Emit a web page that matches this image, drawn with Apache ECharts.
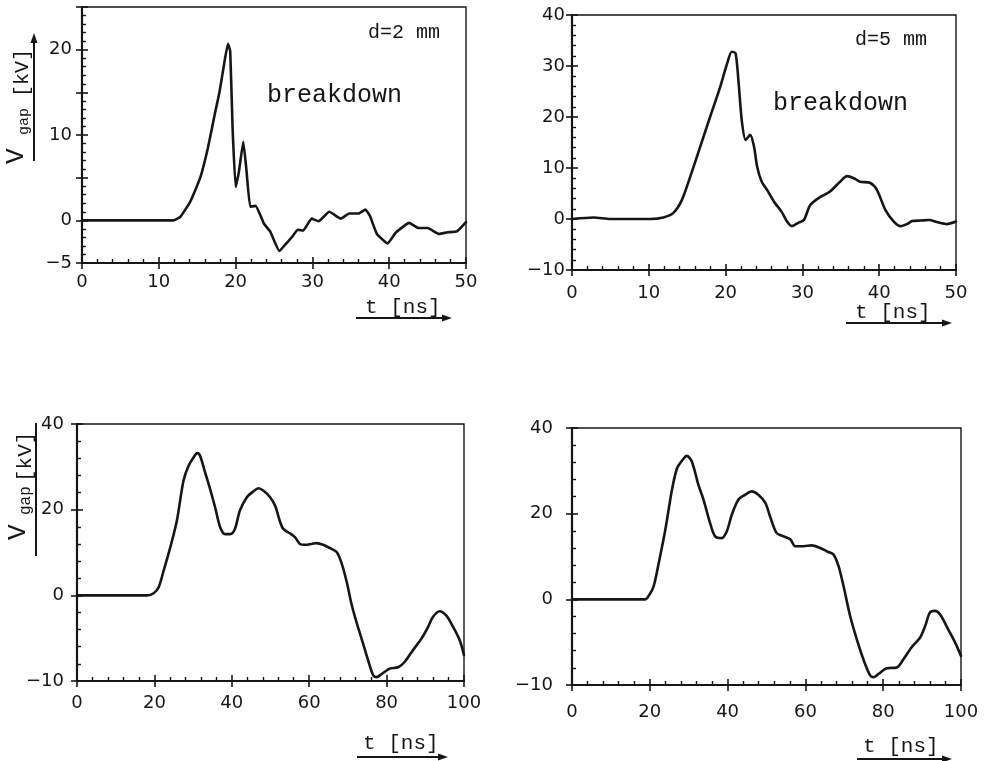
<!DOCTYPE html>
<html>
<head>
<meta charset="utf-8">
<script src="https://cdn.jsdelivr.net/npm/echarts@6/dist/echarts.min.js"></script>
<style>
  html, body { margin: 0; padding: 0; background: #ffffff; }
  #chart { width: 987px; height: 761px; }
</style>
</head>
<body>
<div id="chart"></div>
<script>
// Gap voltage waveforms, V_gap [kV] against t [ns]

// d = 2 mm, breakdown
const time2mm = [0, 11.9, 12.8, 14.1, 15.4, 16.4, 17.3, 17.9, 18.5, 19.0, 19.3, 19.6, 20.0, 20.4, 21.0, 21.4, 21.9, 22.6, 23.7, 24.5, 25.7, 26.5, 27.3, 28.1, 28.8, 29.9, 30.8, 32.2, 33.7, 34.8, 36.0, 36.9, 37.5, 38.4, 39.8, 40.9, 42.6, 43.8, 45.0, 46.5, 47.6, 48.8, 50.0];
const volt2mm = [0, 0, 0.4, 2.2, 5.0, 8.5, 12.5, 15.0, 18.3, 20.7, 19.8, 11.0, 3.9, 5.5, 9.2, 6.0, 1.6, 1.7, -0.4, -1.3, -3.6, -2.8, -2.0, -1.1, -1.2, 0.2, -0.1, 1.0, 0.2, 0.8, 0.8, 1.25, 0.5, -1.6, -2.7, -1.4, -0.3, -0.9, -0.9, -1.6, -1.4, -1.3, -0.2];

// d = 5 mm, breakdown
const time5mm = [0, 2.8, 5.0, 10.2, 11.9, 13.2, 14.3, 15.4, 16.7, 18.0, 19.3, 20.2, 20.8, 21.3, 21.7, 22.1, 22.6, 23.2, 23.7, 24.1, 24.7, 25.4, 26.3, 27.3, 28.0, 28.6, 29.5, 30.2, 31.0, 32.1, 33.6, 34.9, 35.8, 36.7, 37.5, 38.8, 39.7, 40.8, 41.9, 42.8, 43.6, 44.3, 45.4, 46.5, 47.5, 48.8, 50.0];
const volt5mm = [0, 0.3, 0, 0, 0.3, 1.2, 3.7, 8.3, 14.2, 20.1, 25.9, 30.5, 32.8, 32.5, 26.6, 19.4, 15.5, 16.5, 14.2, 10.3, 7.3, 5.7, 3.4, 1.4, -0.5, -1.4, -0.7, -0.2, 2.7, 4.1, 5.4, 7.3, 8.4, 8.0, 7.3, 7.1, 5.7, 1.8, -0.5, -1.4, -1.0, -0.4, -0.3, -0.2, -0.6, -1.0, -0.5];

// lower left waveform
const timeLowerA = [0, 18.1, 19.8, 21.1, 22.4, 24.1, 25.8, 27.5, 28.8, 30.1, 31.1, 31.8, 33.1, 34.4, 35.7, 37.0, 38.3, 39.6, 40.8, 42.1, 43.9, 45.6, 46.9, 48.2, 49.9, 51.2, 52.5, 53.3, 55.0, 56.3, 57.6, 58.9, 60.6, 61.9, 63.6, 65.4, 67.1, 68.4, 69.7, 70.9, 72.2, 73.9, 75.2, 76.5, 77.4, 78.7, 80.8, 83.0, 84.7, 86.8, 89.0, 90.7, 92.0, 93.7, 95.4, 97.2, 98.9, 100];
const voltLowerA = [0, 0, 0.5, 1.9, 5.8, 11.2, 17.4, 26.7, 30.2, 32.2, 33.2, 32.6, 28.7, 24.8, 20.5, 15.9, 14.3, 14.3, 15.5, 19.8, 22.9, 24.3, 25.0, 24.4, 22.9, 20.9, 17.1, 15.5, 14.5, 13.6, 12.0, 11.8, 12.0, 12.2, 11.8, 11.0, 10.1, 7.4, 3.1, -1.9, -6.2, -11.2, -15.1, -18.6, -19.1, -18.4, -17.1, -16.8, -15.5, -12.8, -10.1, -7.4, -5.0, -3.7, -4.7, -7.4, -10.5, -14.0];

// lower right waveform
const timeLowerB = [0, 18.8, 19.7, 21.0, 22.3, 24.0, 25.7, 27.0, 28.3, 29.5, 30.8, 32.5, 33.8, 35.5, 36.8, 38.5, 39.8, 41.1, 42.8, 44.5, 46.2, 47.9, 49.7, 50.9, 52.6, 54.4, 56.1, 57.4, 59.5, 61.6, 63.8, 65.5, 67.2, 68.5, 69.8, 71.5, 73.2, 74.9, 76.6, 77.5, 78.8, 80.9, 83.5, 85.2, 87.3, 89.5, 90.8, 92.0, 93.3, 94.6, 96.7, 98.5, 100];
const voltLowerB = [0, 0, 0.8, 3.1, 8.5, 16.3, 25.6, 30.6, 32.4, 33.5, 32.2, 26.7, 23.3, 17.8, 14.7, 14.3, 15.9, 19.8, 23.3, 24.4, 25.2, 24.4, 22.5, 19.4, 15.5, 14.7, 14.0, 12.4, 12.4, 12.6, 12.0, 11.2, 10.5, 7.8, 3.1, -3.9, -9.3, -14.0, -17.7, -18.2, -17.4, -16.1, -15.9, -14.0, -11.2, -8.9, -6.2, -3.1, -2.7, -3.5, -7.0, -10.1, -13.2];

// tick labels
const xTicksTop = [0, 10, 20, 30, 40, 50];
const xTicksBottom = [0, 20, 40, 60, 80, 100];
const yTicks2mm = [-5, 0, 10, 20];
const yTicks5mm = [-10, 0, 10, 20, 30, 40];
const yTickValuesBottom = [-20, 0, 20, 40];
const yTickTextsBottom = ['-10', '0', '20', '40'];

const INK = '#161616';
const TICK_FONT = 'DejaVu Sans';
const MONO = 'Liberation Mono';

const minus = s => String(s).replace('-', '\u2212');
const pairs = (xs, ys) => xs.map((x, i) => [x, ys[i]]);

const panels = [
  { grid: { left: 82, top: 7, width: 384, height: 256 },
    x: { min: 0, max: 50, interval: 10, ticks: xTicksTop, margin: 10 },
    y: { min: -5, max: 25, interval: 5, margin: 10,
         label: v => (yTicks2mm.includes(v) ? minus(v) : '') },
    data: pairs(time2mm, volt2mm), smooth: 0.12 },
  { grid: { left: 572, top: 15, width: 384, height: 255 },
    x: { min: 0, max: 50, interval: 10, ticks: xTicksTop, margin: 14 },
    y: { min: -10, max: 40, interval: 10, margin: 7,
         label: v => (yTicks5mm.includes(v) ? minus(v) : '') },
    data: pairs(time5mm, volt5mm), smooth: 0.25 },
  { grid: { left: 77, top: 424, width: 387, height: 257 },
    x: { min: 0, max: 100, interval: 20, ticks: xTicksBottom, margin: 13 },
    y: { min: -20, max: 40, interval: 20, margin: 13,
         label: v => { const i = yTickValuesBottom.indexOf(v); return i < 0 ? '' : minus(yTickTextsBottom[i]); } },
    data: pairs(timeLowerA, voltLowerA), smooth: 0.3 },
  { grid: { left: 572, top: 428, width: 389, height: 257 },
    x: { min: 0, max: 100, interval: 20, ticks: xTicksBottom, margin: 18 },
    y: { min: -20, max: 40, interval: 20, margin: 19,
         label: v => { const i = yTickValuesBottom.indexOf(v); return i < 0 ? '' : minus(yTickTextsBottom[i]); } },
    data: pairs(timeLowerB, voltLowerB), smooth: 0.3 }
];

const grids = [], xAxes = [], yAxes = [], series = [];
const tickLabelStyle = { fontFamily: TICK_FONT, fontSize: 18, color: INK };

panels.forEach((p, i) => {
  grids.push(Object.assign({ show: true, borderColor: INK, borderWidth: 1.4,
    backgroundColor: 'transparent', containLabel: false, outerBoundsMode: 'none' }, p.grid));

  // axis with line, inward ticks and labels
  xAxes.push({
    gridIndex: i, type: 'value', position: 'bottom',
    min: p.x.min, max: p.x.max, interval: p.x.interval,
    axisLine: { show: true, onZero: false, lineStyle: { color: INK, width: 2.2 } },
    axisTick: { show: true, inside: true, length: 6, lineStyle: { color: INK, width: 1.6 } },
    minorTick: { show: true, splitNumber: 5, length: 4, lineStyle: { color: INK, width: 1.4 } },
    axisLabel: Object.assign({ margin: p.x.margin,
      formatter: v => (p.x.ticks.includes(v) ? minus(v) : '') }, tickLabelStyle),
    splitLine: { show: false }
  });
  // companion axis: major ticks reaching outward across the line
  xAxes.push({
    gridIndex: i, type: 'value', position: 'bottom',
    min: p.x.min, max: p.x.max, interval: p.x.interval,
    axisLine: { show: false, onZero: false },
    axisTick: { show: true, inside: false, length: 6, lineStyle: { color: INK, width: 1.6 } },
    minorTick: { show: false }, axisLabel: { show: false }, splitLine: { show: false }
  });

  yAxes.push({
    gridIndex: i, type: 'value', position: 'left',
    min: p.y.min, max: p.y.max, interval: p.y.interval,
    axisLine: { show: true, onZero: false, lineStyle: { color: INK, width: 2.2 } },
    axisTick: { show: true, inside: true, length: 6, lineStyle: { color: INK, width: 1.6 } },
    minorTick: { show: true, splitNumber: 5, length: 4, lineStyle: { color: INK, width: 1.4 } },
    axisLabel: Object.assign({ margin: p.y.margin, formatter: p.y.label }, tickLabelStyle),
    splitLine: { show: false }
  });
  yAxes.push({
    gridIndex: i, type: 'value', position: 'left',
    min: p.y.min, max: p.y.max, interval: p.y.interval,
    axisLine: { show: false, onZero: false },
    axisTick: { show: true, inside: false, length: 6, lineStyle: { color: INK, width: 1.6 } },
    minorTick: { show: false }, axisLabel: { show: false }, splitLine: { show: false }
  });

  series.push({
    type: 'line', xAxisIndex: 2 * i, yAxisIndex: 2 * i,
    data: p.data, showSymbol: false, smooth: p.smooth,
    lineStyle: { color: INK, width: 2.6, join: 'round', cap: 'round' },
    silent: true, animation: false
  });
});

// annotation helpers
const monoText = (x, y, text, size, align) => ({
  type: 'text', x: x, y: y, silent: true,
  style: { text: text, fill: INK, font: size + 'px "' + MONO + '"',
           align: align || 'left', textAlign: align || 'left',
           verticalAlign: 'middle', textVerticalAlign: 'middle' }
});
const line = (x1, y1, x2, y2, w) => ({
  type: 'line', silent: true,
  shape: { x1: x1, y1: y1, x2: x2, y2: y2 },
  style: { stroke: INK, lineWidth: w || 2 }
});
const tri = pts => ({ type: 'polygon', silent: true, shape: { points: pts }, style: { fill: INK } });

// time axis title, underlined with an arrow to the right
const timeTitle = (x, y, lineY, x1, x2) => [
  monoText(x, y, 't [ns]', 21),
  line(x1, lineY, x2 - 6, lineY, 2),
  tri([[x2, lineY], [x2 - 10, lineY - 3.5], [x2 - 10, lineY + 3.5]])
];

// voltage axis title, written upward along an underline
const voltTitle = (px, py, len, arrow, sizes, offs) => ({
  type: 'group', x: px, y: py, rotation: Math.PI / 2, silent: true,
  children: [
    line(0, 0, arrow ? len - 6 : len, 0, 2),
    ...(arrow ? [tri([[len, 0], [len - 10, -3.5], [len - 10, 3.5]])] : []),
    monoText(offs[0], -18, 'V', sizes[0]),
    monoText(offs[1], -10, 'gap', sizes[1]),
    monoText(offs[2], -11, '[kV]', sizes[2])
  ]
});

const graphics = [
  monoText(368, 33, 'd=2 mm', 20),
  monoText(267, 95, 'breakdown', 25),
  monoText(855, 40, 'd=5 mm', 20),
  monoText(773, 103, 'breakdown', 25),
  ...timeTitle(365, 307, 318, 356, 452),
  ...timeTitle(855, 312, 323, 846, 952),
  ...timeTitle(363, 743, 757, 357, 448),
  ...timeTitle(863, 746, 759, 857, 952),
  voltTitle(34, 161, 128, true, [26, 15, 20], [-3, 26, 64]),
  voltTitle(36, 556, 133, false, [26, 16, 21], [16, 41, 74])
];

const chart = echarts.init(document.getElementById('chart'), null, { renderer: 'canvas' });
chart.setOption({
  backgroundColor: '#ffffff',
  animation: false,
  grid: grids,
  xAxis: xAxes,
  yAxis: yAxes,
  series: series,
  graphic: graphics
});
</script>
</body>
</html>
